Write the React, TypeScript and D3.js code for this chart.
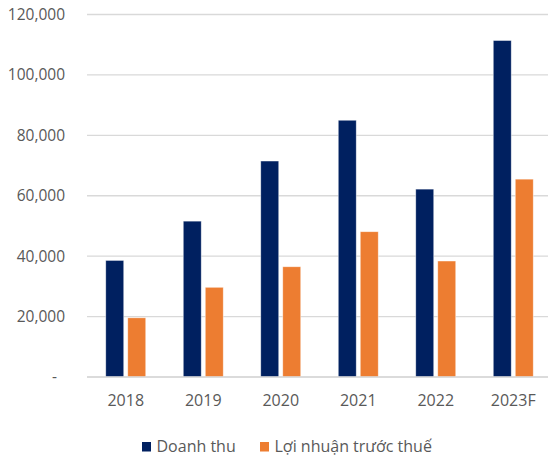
import React from "react";
import * as d3 from "d3";

const categories = ["2018", "2019", "2020", "2021", "2022", "2023F"];
const seriesNames = ["Doanh thu", "Lợi nhuận trước thuế"];
const revenue = [38600, 51600, 71500, 85000, 62200, 111400];
const profitBeforeTax = [19600, 29700, 36500, 48100, 38400, 65500];
const yTicks = [0, 20000, 40000, 60000, 80000, 100000, 120000];
const colors = ["#002060", "#ED7D31"];

export default function App() {
  const W = 548;
  const H = 460;
  const left = 87;
  const right = 552;
  const top = 14.5;
  const bottom = 377;

  const x = d3.scaleBand().domain(categories).range([left, right]).padding(0);
  const xs = d3.scaleBand().domain(seriesNames).range([-20, 20]).paddingInner(4 / 22);
  const y = d3.scaleLinear().domain([0, 120000]).range([bottom, top]);
  const fmt = d3.format(",");
  const series = [revenue, profitBeforeTax];
  const font = "'Open Sans', 'Noto Sans', sans-serif";

  return (
    <div style={{ position: "absolute", left: 0, top: 0 }}>
      <svg width={W} height={H} style={{ display: "block", background: "#fff" }}>
        {yTicks.map((t) => (
          <g key={t}>
            <line x1={left} x2={W} y1={y(t)} y2={y(t)} stroke="#D9D9D9" strokeWidth={1.3} />
            <text
              x={t === 0 ? 57 : 65}
              y={y(t)}
              dy="0.35em"
              textAnchor="end"
              fontFamily={font}
              fontSize={15.5}
              fill="#595959"
            >
              {t === 0 ? "-" : fmt(t)}
            </text>
          </g>
        ))}
        {series.map((vals, si) =>
          vals.map((v, i) => {
            const cx = (x(categories[i]) as number) + x.bandwidth() / 2;
            const bx = cx + (xs(seriesNames[si]) as number);
            return (
              <rect
                key={si + "-" + i}
                x={bx}
                y={y(v)}
                width={xs.bandwidth()}
                height={bottom - y(v)}
                fill={colors[si]}
                stroke="#ffffff"
                strokeOpacity={0.6}
                strokeWidth={0.75}
              />
            );
          })
        )}
        <line x1={left} x2={W} y1={bottom} y2={bottom} stroke="#D9D9D9" strokeWidth={1.3} />
        {categories.map((c) => (
          <text
            key={c}
            x={(x(c) as number) + x.bandwidth() / 2}
            y={406}
            textAnchor="middle"
            fontFamily={font}
            fontSize={16}
            fill="#595959"
          >
            {c}
          </text>
        ))}
        {seriesNames.map((s, i) => {
          const lx = i === 0 ? 142 : 260;
          return (
            <g key={s}>
              <rect x={lx} y={442} width={9} height={9.5} fill={colors[i]} />
              <text x={lx + 14.5} y={452} fontFamily={font} fontSize={16} fill="#595959">
                {s}
              </text>
            </g>
          );
        })}
      </svg>
    </div>
  );
}
